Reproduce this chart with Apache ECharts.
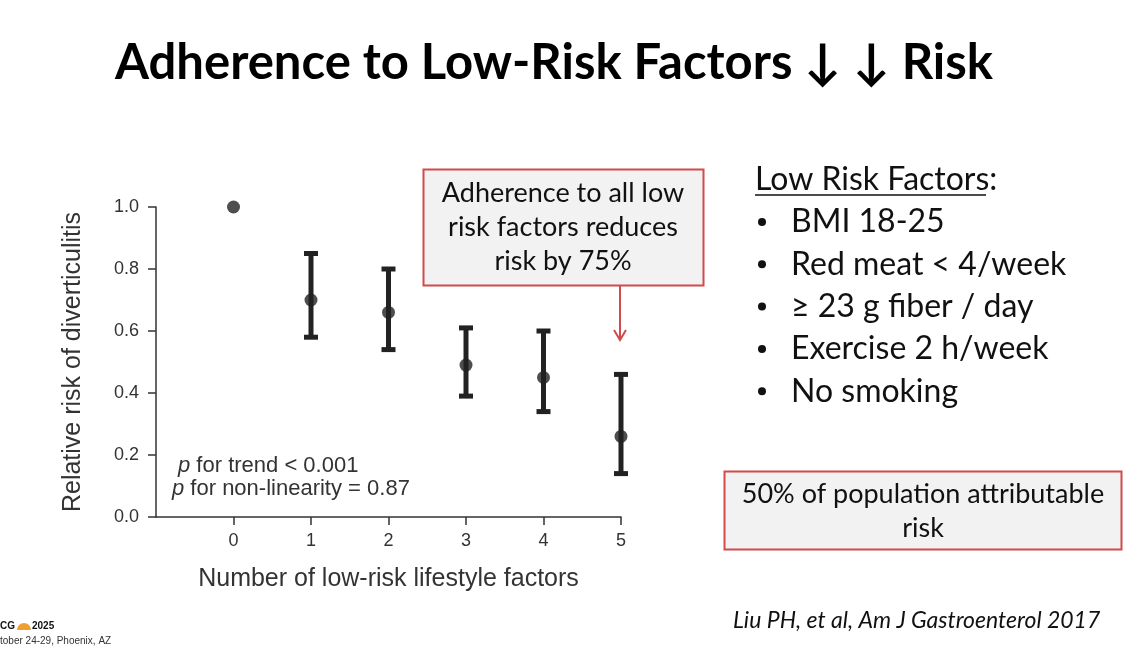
<!DOCTYPE html>
<html><head><meta charset="utf-8">
<script src="https://cdn.jsdelivr.net/npm/echarts@6/dist/echarts.min.js"></script>
<style>html,body{margin:0;padding:0;background:#fff}#c{width:1145px;height:652px}</style>
</head><body><div id="c"></div>
<script>
const factors = [0, 1, 2, 3, 4, 5];
const relativeRisk = [1.00, 0.70, 0.66, 0.49, 0.45, 0.26];
const ciLower = [null, 0.58, 0.54, 0.39, 0.34, 0.14];
const ciUpper = [null, 0.85, 0.80, 0.61, 0.60, 0.46];
const xTickValues = [0, 1, 2, 3, 4, 5];
const riskFactors = ['BMI 18-25', 'Red meat < 4/week', '\u2265 23 g fiber / day', 'Exercise 2 h/week', 'No smoking'];

const pointData = factors.map((f, i) => [f, relativeRisk[i]]);
const ciData = factors.map((f, i) => [f, ciLower[i], ciUpper[i]]).filter(d => d[1] != null);

const ARIAL = '"Liberation Sans", Arial, sans-serif';
const CAL = 'Lato, "Open Sans", sans-serif';
const RED = '#d24a4a';

const graphics = [];
graphics.push({type: 'text', x: 115, y: 63, style: {text: 'Adherence to Low-Risk Factors \u2193 \u2193 Risk', font: 'bold 49px ' + CAL, fill: '#000', verticalAlign: 'middle'}});
// annotation box 1
graphics.push({type: 'rect', shape: {x: 423.5, y: 169.5, width: 280, height: 116}, style: {fill: '#f2f2f2', stroke: RED, lineWidth: 2}});
graphics.push({type: 'text', x: 563, y: 227, style: {text: 'Adherence to all low\nrisk factors reduces\nrisk by 75%', font: '27px ' + CAL, fill: '#111', align: 'center', verticalAlign: 'middle', lineHeight: 34}});
graphics.push({type: 'line', shape: {x1: 620, y1: 286, x2: 620, y2: 338}, style: {stroke: RED, lineWidth: 2}});
graphics.push({type: 'polyline', shape: {points: [[614, 330], [620, 340], [626, 330]]}, style: {stroke: RED, lineWidth: 2, fill: null}});
// low risk factors list
graphics.push({type: 'text', x: 755, y: 180, style: {text: 'Low Risk Factors:', font: '32px ' + CAL, fill: '#111', verticalAlign: 'middle'}});
graphics.push({type: 'line', shape: {x1: 755, y1: 195, x2: 986, y2: 195}, style: {stroke: '#111', lineWidth: 1.5}});
riskFactors.forEach((t, i) => {
  const y = 222 + i * 42.3;
  graphics.push({type: 'circle', shape: {cx: 762, cy: y, r: 4}, style: {fill: '#111'}});
  graphics.push({type: 'text', x: 791, y: y, style: {text: t, font: '32px ' + CAL, fill: '#111', verticalAlign: 'middle'}});
});
// box 2
graphics.push({type: 'rect', shape: {x: 724.5, y: 471.5, width: 397, height: 78}, style: {fill: '#f2f2f2', stroke: RED, lineWidth: 2}});
graphics.push({type: 'text', x: 923, y: 511, style: {text: '50% of population attributable\nrisk', font: '27px ' + CAL, fill: '#111', align: 'center', verticalAlign: 'middle', lineHeight: 34}});
// citation
graphics.push({type: 'text', x: 733, y: 621, style: {text: 'Liu PH, et al, Am J Gastroenterol 2017', font: 'italic 23px ' + CAL, fill: '#111', verticalAlign: 'middle'}});
// p-values
graphics.push({type: 'text', x: 178, y: 466, style: {text: '{i|p} for trend < 0.001', rich: {i: {font: 'italic 22px ' + ARIAL, fill: '#333'}}, font: '22px ' + ARIAL, fill: '#333', verticalAlign: 'middle'}});
graphics.push({type: 'text', x: 172, y: 489, style: {text: '{i|p} for non-linearity = 0.87', rich: {i: {font: 'italic 22px ' + ARIAL, fill: '#333'}}, font: '22px ' + ARIAL, fill: '#333', verticalAlign: 'middle'}});
// logo
graphics.push({type: 'text', x: 0, y: 626, style: {text: 'CG', font: 'bold 10px ' + ARIAL, fill: '#111', verticalAlign: 'middle'}});
graphics.push({type: 'sector', shape: {cx: 24, cy: 630, r0: 0, r: 7, startAngle: Math.PI, endAngle: 2 * Math.PI}, style: {fill: '#f0a030'}});
graphics.push({type: 'text', x: 32, y: 626, style: {text: '2025', font: 'bold 10px ' + ARIAL, fill: '#111', verticalAlign: 'middle'}});
graphics.push({type: 'text', x: 0, y: 641, style: {text: 'tober 24-29, Phoenix, AZ', font: '10px ' + ARIAL, fill: '#333', verticalAlign: 'middle'}});

const chart = echarts.init(document.getElementById('c'));
chart.setOption({
  animation: false,
  backgroundColor: '#fff',
  grid: {left: 156, right: 524, top: 207, bottom: 135, containLabel: false},
  xAxis: {
    type: 'value', min: -1, max: 5, interval: 1,
    name: 'Number of low-risk lifestyle factors', nameLocation: 'middle', nameGap: 50,
    nameTextStyle: {fontSize: 25, fontFamily: ARIAL, color: '#333'},
    axisLine: {show: true, onZero: false, lineStyle: {color: '#333', width: 1.5}},
    axisTick: {show: true, length: 8, customValues: xTickValues, lineStyle: {color: '#333', width: 1.5}},
    axisLabel: {customValues: xTickValues, fontSize: 18, fontFamily: ARIAL, color: '#333', margin: 15},
    splitLine: {show: false}
  },
  yAxis: {
    type: 'value', min: 0, max: 1, interval: 0.2,
    name: 'Relative risk of diverticulitis', nameLocation: 'middle', nameGap: 70,
    nameTextStyle: {fontSize: 25, fontFamily: ARIAL, color: '#333'},
    axisLine: {show: true, onZero: false, lineStyle: {color: '#333', width: 1.5}},
    axisTick: {show: true, length: 8, lineStyle: {color: '#333', width: 1.5}},
    axisLabel: {fontSize: 18, fontFamily: ARIAL, color: '#333', margin: 17, formatter: v => v.toFixed(1)},
    splitLine: {show: false}
  },
  series: [
    {
      type: 'custom', data: ciData, z: 2,
      renderItem: (params, api) => {
        const x = api.value(0);
        const lo = api.coord([x, api.value(1)]);
        const hi = api.coord([x, api.value(2)]);
        const w = 7, st = {stroke: '#222', lineWidth: 5};
        return {type: 'group', children: [
          {type: 'line', shape: {x1: lo[0], y1: lo[1], x2: hi[0], y2: hi[1]}, style: st},
          {type: 'line', shape: {x1: lo[0] - w, y1: lo[1], x2: lo[0] + w, y2: lo[1]}, style: st},
          {type: 'line', shape: {x1: hi[0] - w, y1: hi[1], x2: hi[0] + w, y2: hi[1]}, style: st}
        ]};
      }
    },
    {type: 'scatter', data: pointData, symbolSize: 13, itemStyle: {color: '#222'}, z: 3}
  ],
  graphic: graphics
});
</script>
</body></html>
